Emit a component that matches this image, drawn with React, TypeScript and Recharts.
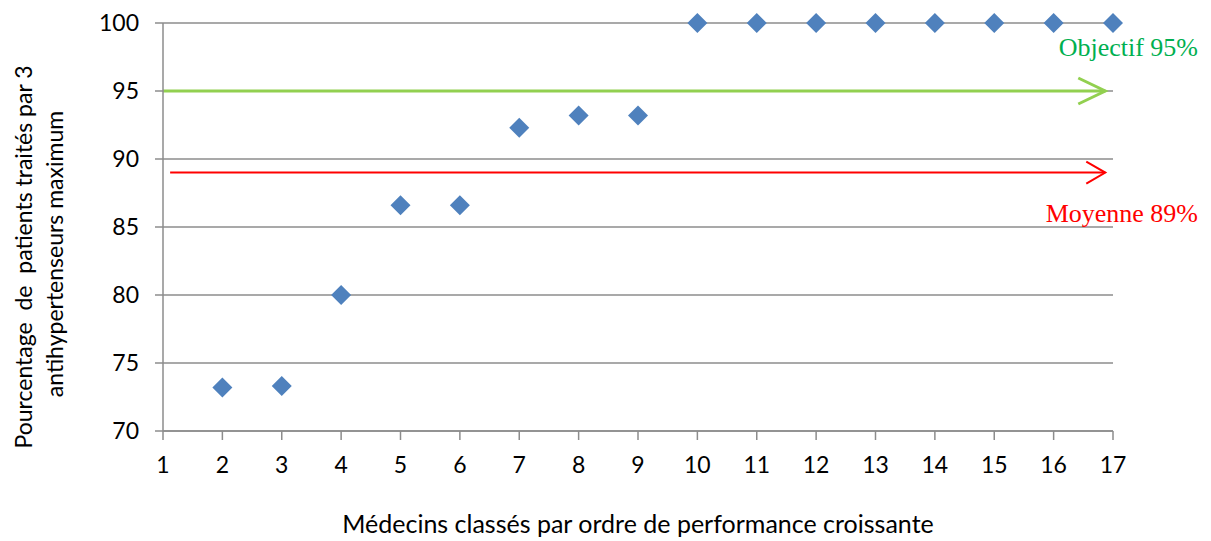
import { ScatterChart, Scatter, XAxis, YAxis, CartesianGrid, ReferenceLine } from 'recharts';

// Médecins classés (rang) et pourcentage de patients traités par 3 antihypertenseurs max
const doctorRanks = [2, 3, 4, 5, 6, 7, 8, 9, 10, 11, 12, 13, 14, 15, 16, 17];
const treatedRates = [73.2, 73.3, 80, 86.6, 86.6, 92.3, 93.2, 93.2, 100, 100, 100, 100, 100, 100, 100, 100];

const xTicks = [1, 2, 3, 4, 5, 6, 7, 8, 9, 10, 11, 12, 13, 14, 15, 16, 17];
const yTicks = [70, 75, 80, 85, 90, 95, 100];

const targetRate = 95;
const averageRate = 89;
const targetLabel = 'Objectif 95%';
const averageLabel = 'Moyenne 89%';

const data = doctorRanks.map((rank, i) => ({ rank, rate: treatedRates[i] }));

const GRID = '#8c8c8c';
const BLUE = '#4f81bd';
const SANS = 'Lato, "Open Sans", sans-serif';
const SERIF = '"Liberation Serif", "Times New Roman", serif';

const Diamond = ({ cx, cy }: { cx?: number; cy?: number }) => {
  if (cx == null || cy == null) return null;
  const r = 10;
  return <path d={`M${cx},${cy - r}L${cx + r},${cy}L${cx},${cy + r}L${cx - r},${cy}Z`} fill={BLUE} />;
};

const makeArrow =
  (color: string, textColor: string, width: number, headLen: number, headHalf: number, label: string, labelDy: number) =>
  (props: any) => {
    const { x1, y1, x2, y2 } = props;
    return (
      <g>
        <line x1={x1} y1={y1} x2={x2} y2={y2} stroke={color} strokeWidth={width} />
        <polyline
          points={`${x2 - headLen},${y2 - headHalf} ${x2},${y2} ${x2 - headLen},${y2 + headHalf}`}
          fill="none"
          stroke={color}
          strokeWidth={width}
        />
        <text x={1198} y={y1 + labelDy} textAnchor="end" fontFamily={SERIF} fontSize={26} fill={textColor}>
          {label}
        </text>
      </g>
    );
  };

const YLabel = () => (
  <g fontFamily={SANS} fontSize={23} fill="#000">
    <text transform="translate(32, 257) rotate(-90)" textAnchor="middle">
      Pourcentage&#160; de&#160; patients traités par 3
    </text>
    <text transform="translate(63, 254) rotate(-90)" textAnchor="middle">
      antihypertenseurs maximum
    </text>
  </g>
);

export default function App() {
  return (
    <div style={{ position: 'absolute', left: 0, top: 0, background: '#fff' }}>
      <ScatterChart width={1211} height={541} margin={{ top: 23, right: 98, bottom: 0, left: 0 }}>
        <CartesianGrid vertical={false} stroke={GRID} strokeWidth={1.5} />
        <XAxis
          type="number"
          dataKey="rank"
          domain={[1, 17]}
          ticks={xTicks}
          interval={0}
          height={110}
          tickSize={9}
          tickMargin={17}
          axisLine={{ stroke: GRID, strokeWidth: 1.5 }}
          tickLine={{ stroke: GRID, strokeWidth: 1.5 }}
          tick={{ fill: '#000', fontSize: 23, fontFamily: SANS }}
          label={{
            value: 'Médecins classés par ordre de performance croissante',
            position: 'insideBottom',
            offset: 8,
            fill: '#000',
            fontSize: 25,
            fontFamily: SANS,
          }}
        />
        <YAxis
          type="number"
          dataKey="rate"
          domain={[70, 100]}
          ticks={yTicks}
          interval={0}
          width={163}
          tickSize={8}
          tickMargin={16}
          axisLine={{ stroke: GRID, strokeWidth: 1.5 }}
          tickLine={{ stroke: GRID, strokeWidth: 1.5 }}
          tick={{ fill: '#000', fontSize: 23, fontFamily: SANS }}
          label={{ content: () => <YLabel /> }}
        />
        <ReferenceLine
          segment={[{ x: 1, y: targetRate }, { x: 16.87, y: targetRate }]}
          shape={makeArrow('#92d050', '#00b050', 3, 27, 13, targetLabel, -35)}
        />
        <ReferenceLine
          segment={[{ x: 1.12, y: averageRate }, { x: 16.87, y: averageRate }]}
          shape={makeArrow('#ff0000', '#ff0000', 2, 19, 11, averageLabel, 49)}
        />
        <Scatter data={data} shape={<Diamond />} isAnimationActive={false} />
      </ScatterChart>
    </div>
  );
}
